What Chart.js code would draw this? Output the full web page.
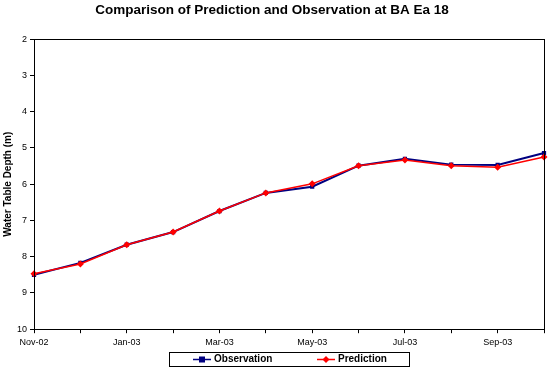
<!DOCTYPE html>
<html lang="en">
<head>
  <meta charset="UTF-8" />
  <title>Comparison of Prediction and Observation at BA Ea 18</title>
  <script src="https://cdn.jsdelivr.net/npm/chart.js"></script>
  <style>
    body { margin: 0; background: #fff; }
    #chart { display: block; }
  </style>
</head>
<body>
  <canvas id="chart" width="550" height="370"></canvas>
  <script>
    // Monthly readings, Nov-02 .. Oct-03
    const months = ['Nov-02', 'Dec-02', 'Jan-03', 'Feb-03', 'Mar-03', 'Apr-03',
                    'May-03', 'Jun-03', 'Jul-03', 'Aug-03', 'Sep-03', 'Oct-03'];
    const observation = [8.50, 8.17, 7.67, 7.32, 6.74, 6.24, 6.07, 5.49, 5.30, 5.46, 5.47, 5.14];
    const prediction  = [8.47, 8.20, 7.67, 7.32, 6.74, 6.24, 5.99, 5.49, 5.33, 5.49, 5.53, 5.25];
    const depthTicks = [2, 3, 4, 5, 6, 7, 8, 9, 10];

    const FONT = 'Arial, "Liberation Sans", sans-serif';
    const NAVY = '#000080';
    const RED = '#ff0000';

    function drawMarker(g, shape, cx, cy) {
      if (shape === 'square') {
        g.fillRect(cx - 3, cy - 3, 6, 6);
      } else {
        g.beginPath();
        g.moveTo(cx, cy - 3.5); g.lineTo(cx + 3.5, cy); g.lineTo(cx, cy + 3.5); g.lineTo(cx - 3.5, cy);
        g.closePath(); g.fill();
      }
    }

    // plot frame + Excel-style legend box under the x labels
    const frames = {
      id: 'frames',
      afterDraw(chart) {
        const { ctx, chartArea: a } = chart;
        ctx.save();
        ctx.strokeStyle = '#000';
        ctx.lineWidth = 1;
        ctx.strokeRect(Math.round(a.left) + 0.5, Math.round(a.top) + 0.5,
                       Math.round(a.right - a.left), Math.round(a.bottom - a.top));

        // legend
        const top = 352, h = 14, left = 169, w = 240;
        ctx.strokeRect(left + 0.5, top + 0.5, w, h);
        const cy = top + h / 2 + 0.5;
        const items = [
          { ds: chart.data.datasets[0], shape: 'square', x: 193 },
          { ds: chart.data.datasets[1], shape: 'diamond', x: 317 }
        ];
        ctx.font = 'bold 10px ' + FONT;
        ctx.textBaseline = 'middle';
        items.forEach(it => {
          const c = it.ds.borderColor;
          ctx.strokeStyle = c;
          ctx.fillStyle = c;
          ctx.lineWidth = 1.5;
          ctx.beginPath(); ctx.moveTo(it.x, cy); ctx.lineTo(it.x + 18, cy); ctx.stroke();
          drawMarker(ctx, it.shape, it.x + 9, cy);
          ctx.fillStyle = '#000';
          ctx.fillText(it.ds.label, it.x + 21, cy);
        });
        ctx.restore();
      }
    };

    new Chart(document.getElementById('chart'), {
      type: 'line',
      data: {
        labels: months,
        datasets: [
          {
            label: 'Observation',
            data: observation,
            borderColor: NAVY,
            backgroundColor: NAVY,
            borderWidth: 2,
            pointStyle: 'rect',
            pointRadius: 3,
            pointBorderWidth: 0,
            tension: 0,
            order: 1
          },
          {
            label: 'Prediction',
            data: prediction,
            borderColor: RED,
            backgroundColor: RED,
            borderWidth: 1.5,
            pointStyle: 'rectRot',
            pointRadius: 3.5,
            pointBorderWidth: 0,
            tension: 0,
            order: 0
          }
        ]
      },
      options: {
        responsive: false,
        animation: false,
        layout: { padding: { left: 0, right: 6, top: 0, bottom: 18 } },
        scales: {
          x: {
            type: 'category',
            offset: false,
            grid: { drawOnChartArea: false, tickLength: 4, color: '#000', tickColor: '#000' },
            border: { color: '#000', width: 1 },
            ticks: {
              autoSkip: false,
              maxRotation: 0,
              padding: 4,
              color: '#000',
              font: { family: FONT, size: 9 },
              callback: (v, i) => (i % 2 === 0 ? months[i] : '')
            }
          },
          y: {
            reverse: true,
            min: depthTicks[0],
            max: depthTicks[depthTicks.length - 1],
            afterBuildTicks: axis => { axis.ticks = depthTicks.map(v => ({ value: v })); },
            grid: { drawOnChartArea: false, tickLength: 4, color: '#000', tickColor: '#000' },
            border: { color: '#000', width: 1 },
            title: {
              display: true,
              text: 'Water Table Depth (m)',
              color: '#000',
              font: { family: FONT, size: 10, weight: 'bold' },
              padding: { top: 2, bottom: 0 }
            },
            ticks: {
              padding: 3,
              color: '#000',
              font: { family: FONT, size: 9 }
            }
          }
        },
        plugins: {
          title: {
            display: true,
            text: 'Comparison of Prediction and Observation at BA Ea 18',
            color: '#000',
            font: { family: FONT, size: 13.5, weight: 'bold' },
            padding: { top: 2, bottom: 21 }
          },
          legend: { display: false },
          tooltip: { enabled: false }
        }
      },
      plugins: [frames]
    });
  </script>
</body>
</html>
